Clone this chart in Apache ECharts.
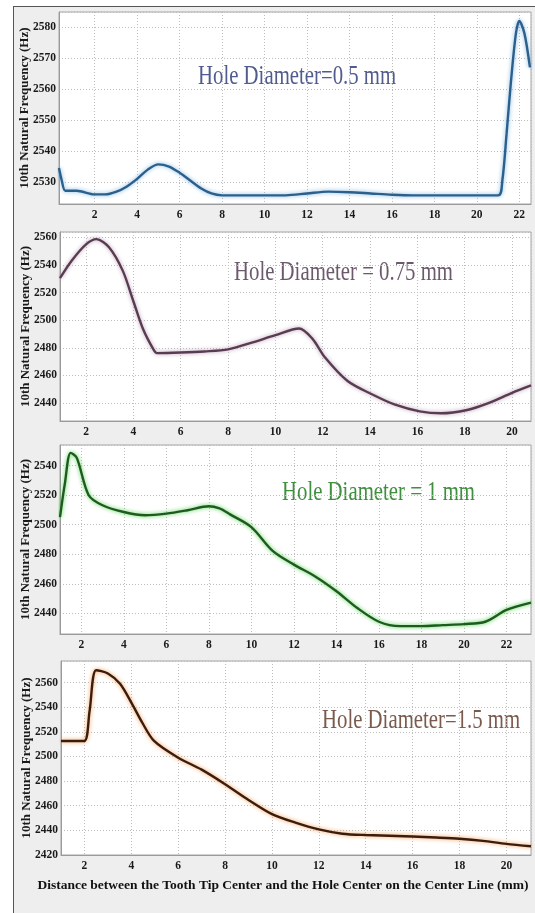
<!DOCTYPE html>
<html>
<head>
<meta charset="utf-8">
<script src="https://cdn.jsdelivr.net/npm/echarts@6/dist/echarts.min.js"></script>
<style>
  html, body { margin: 0; padding: 0; background: #ffffff; overflow: hidden; }
  #frame { position: absolute; left: 13px; top: 6px; width: 560px; height: 960px;
           background: #eeeeee; border: 1.5px solid #555555; box-sizing: border-box; }
  #chart { position: absolute; left: 0; top: 0; width: 535px; height: 913px; }
</style>
</head>
<body>
<div id="frame"></div>
<div id="chart"></div>
<script>
// ---- Data ----
const titles = ['Hole Diameter=0.5 mm', 'Hole Diameter = 0.75 mm', 'Hole Diameter = 1 mm', 'Hole Diameter=1.5 mm'];
const yAxisTitle = '10th Natural Frequency (Hz)';
const xAxisTitle = 'Distance between the Tooth Tip Center and the Hole Center on the Center Line (mm)';

const p1X = [0.32, 0.45, 0.62, 1.15, 2, 2.5, 3, 3.5, 4, 4.5, 5, 5.5, 6, 6.5, 7, 7.5, 8, 11, 12, 13, 14, 15, 16, 17, 21, 21.2, 21.4, 21.6, 21.84, 22, 22.24, 22.5];
const p1Y = [2534.5, 2530.5, 2527.2, 2527.2, 2526, 2526, 2526.8, 2528.5, 2531, 2534, 2535.7, 2535, 2533, 2530.5, 2528, 2526.3, 2525.7, 2525.7, 2526.3, 2526.9, 2526.7, 2526.3, 2525.9, 2525.7, 2525.7, 2530.5, 2545.6, 2562, 2578, 2582, 2578, 2567];

const p2X = [0.9, 1.4, 2, 2.44, 2.97, 3.55, 4, 4.4, 4.83, 5, 6, 7, 8, 9, 10, 11, 11.56, 12.1, 13.05, 14.1, 15.06, 16.1, 17, 18.1, 19, 20, 20.8];
const p2Y = [2530.5, 2543.3, 2555, 2558.8, 2553, 2536, 2513.8, 2494, 2479.4, 2476.2, 2476.6, 2477.4, 2478.9, 2483.8, 2489.2, 2494, 2486.7, 2473, 2456, 2446.2, 2438.8, 2434, 2432.6, 2435, 2440, 2447.4, 2452.8];

const p3X = [1, 1.23, 1.5, 1.79, 2.35, 3, 4, 5, 6, 7, 8, 8.5, 9, 10, 11, 12, 13, 14, 15, 16, 17, 18, 19, 20, 21, 22, 23.15];
const p3Y = [2505.2, 2528, 2548.7, 2545.3, 2520, 2513.2, 2508.6, 2506.4, 2507.5, 2509.8, 2512.5, 2511, 2507, 2498.4, 2482.3, 2473, 2465, 2455, 2443.4, 2434.3, 2431.3, 2431.3, 2432, 2432.7, 2434.3, 2442.3, 2447.3];

const p4X = [1, 1.49, 2, 2.22, 2.5, 3, 3.52, 4.03, 4.46, 4.97, 6, 7, 8, 9, 10, 11, 12, 13, 14, 16, 17, 18, 19, 20, 21.05];
const p4Y = [2512.6, 2512.6, 2512.6, 2537, 2570, 2567.4, 2559, 2542.7, 2527.7, 2512.6, 2499, 2489.3, 2477.5, 2464.7, 2453.2, 2446.3, 2440.8, 2437.3, 2436.2, 2435, 2434.2, 2433.2, 2431.5, 2429, 2427.1];

const xRanges = [[0.32, 22.55], [0.9, 20.8], [1, 23.15], [1, 21.05]];
const yRanges = [[2522.9, 2584.9], [2427, 2564], [2426, 2554], [2420, 2577.5]];
const yStep = [10, 20, 20, 20];
const xStep = 2;

// ---- Styling / layout ----
const grids = [
  { left: 59, top: 12, width: 472, height: 192 },
  { left: 60, top: 232, width: 471, height: 189 },
  { left: 60, top: 445, width: 471, height: 189 },
  { left: 61, top: 661, width: 470, height: 194 }
];
const lineColors = ['#2b5f8c', '#5a3c52', '#1d5c1d', '#3c1c0c'];
const glowColors = ['#7fb4dd', '#b9a0b6', '#4fcf4f', '#f09a50'];
const titleColors = ['#505c8e', '#6c5a6c', '#3f8f3f', '#7a5a4c'];
const titlePos = [[198, 76.5], [234, 272.5], [282, 492.5], [322, 720.5]];

const serif = '"Liberation Serif", "Times New Roman", serif';
const allX = [p1X, p2X, p3X, p4X];
const allY = [p1Y, p2Y, p3Y, p4Y];
const plain = v => String(v);

const xAxes = [], yAxes = [], series = [], graphics = [];
for (let i = 0; i < 4; i++) {
  xAxes.push({
    type: 'value', gridIndex: i, min: xRanges[i][0], max: xRanges[i][1],
    minInterval: xStep, maxInterval: xStep,
    axisLine: { show: true, lineStyle: { color: '#9a9a9a', width: 1 } },
    axisTick: { show: false },
    axisLabel: { showMinLabel: false, showMaxLabel: false, margin: 5, formatter: plain,
      fontFamily: serif, fontWeight: 'bold', fontSize: 11.5, color: '#1a1a1a' },
    splitLine: { show: true, lineStyle: { color: '#bdbdbd', type: [1, 2], width: 1 } }
  });
  yAxes.push({
    type: 'value', gridIndex: i, min: yRanges[i][0], max: yRanges[i][1],
    minInterval: yStep[i], maxInterval: yStep[i],
    name: yAxisTitle, nameLocation: 'middle', nameGap: 28, nameMoveOverlap: false,
    nameTextStyle: { fontFamily: serif, fontWeight: 'bold', fontSize: 13, color: '#1a1a1a' },
    axisLine: { show: true, lineStyle: { color: '#9a9a9a', width: 1 } },
    axisTick: { show: false },
    axisLabel: { showMinLabel: i === 3, showMaxLabel: false, margin: 3, formatter: plain,
      fontFamily: serif, fontWeight: 'bold', fontSize: 11.5, color: '#1a1a1a' },
    splitLine: { show: true, lineStyle: { color: '#bdbdbd', type: [1, 2], width: 1 } }
  });
  series.push({
    type: 'line', xAxisIndex: i, yAxisIndex: i,
    data: allX[i].map((x, k) => [x, allY[i][k]]),
    smooth: 0.3, showSymbol: false, clip: true,
    lineStyle: { color: lineColors[i], width: 2.4, shadowColor: glowColors[i], shadowBlur: 4 }
  });
  graphics.push({
    type: 'text', x: titlePos[i][0], y: titlePos[i][1], scaleX: 0.77, scaleY: 1,
    style: { text: titles[i], font: '27px ' + serif, fill: titleColors[i],
      align: 'left', verticalAlign: 'middle' }
  });
}
graphics.push({
  type: 'text', x: 283, y: 886,
  style: { text: xAxisTitle, font: 'bold 13.5px ' + serif, fill: '#111111',
    align: 'center', verticalAlign: 'middle' }
});

const chart = echarts.init(document.getElementById('chart'), null, { renderer: 'canvas' });
chart.setOption({
  backgroundColor: 'transparent',
  animation: false,
  grid: grids.map(g => Object.assign({ show: true, backgroundColor: '#ffffff', borderColor: '#a5a5a5', borderWidth: 1 }, g)),
  xAxis: xAxes,
  yAxis: yAxes,
  series: series,
  graphic: graphics
});
</script>
</body>
</html>
